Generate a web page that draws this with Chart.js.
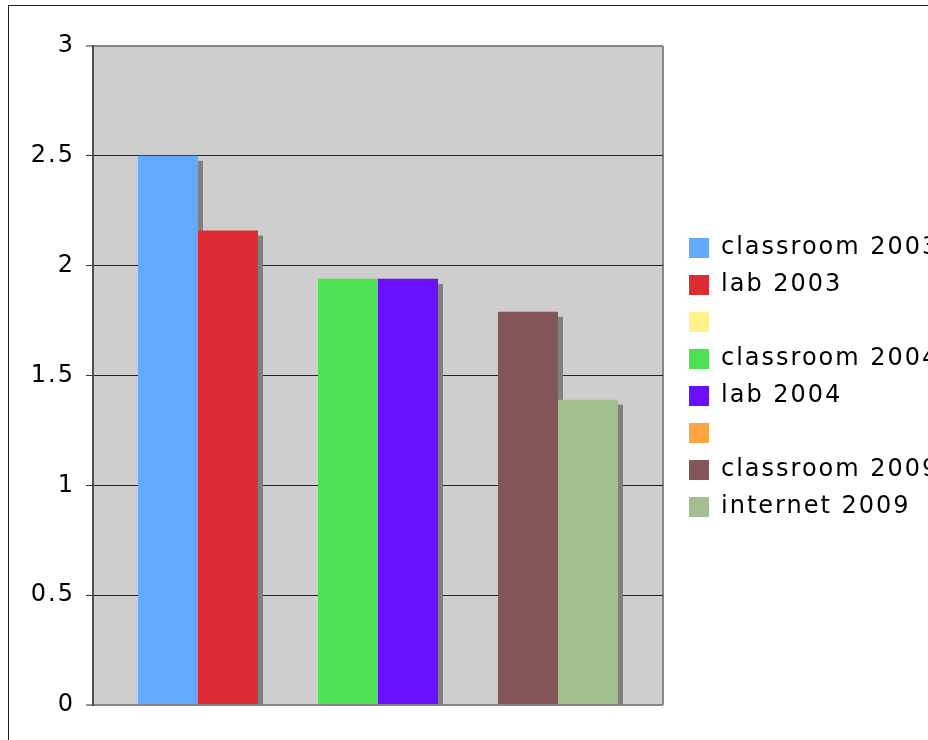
<!DOCTYPE html>
<html>
<head>
<meta charset="utf-8">
<script src="https://cdn.jsdelivr.net/npm/chart.js@4.4.0/dist/chart.umd.min.js"></script>
<style>
    html, body { margin: 0; padding: 0; background: #fff; overflow: hidden; }
    #wrap { position: absolute; left: 0; top: 0; width: 928px; height: 740px; }
    #frame { position: absolute; left: 8px; top: 5px; width: 1000px; height: 1000px; border: 1px solid #222; pointer-events: none; }
</style>
</head>
<body>
<div id="wrap"><canvas id="chart"></canvas></div>
<div id="frame"></div>
<script>
// Chart data
const categories = [''];
const seriesNames = ['classroom 2003', 'lab 2003', '', 'classroom 2004', 'lab 2004', '', 'classroom 2009', 'internet 2009'];
const seriesValues = [2.5, 2.16, null, 1.94, 1.94, null, 1.79, 1.39];
const seriesColors = ['#63a9ff', '#dd2c33', '#fff389', '#4de253', '#6a10ff', '#ffa644', '#855658', '#a3bf8f'];
const yTicks = [0, 0.5, 1, 1.5, 2, 2.5, 3];

Chart.defaults.font.family = "'DejaVu Sans', Verdana, sans-serif";
Chart.defaults.font.size = 24;
Chart.defaults.color = '#000';

// Grey plot wall + right border, also sets letter spacing for all text
const plotBackground = {
    id: 'plotBackground',
    beforeDraw(chart) {
        const ctx = chart.ctx;
        const a = chart.chartArea;
        ctx.save();
        ctx.fillStyle = '#cecece';
        ctx.fillRect(a.left, a.top, a.right - a.left, a.bottom - a.top);
        ctx.strokeStyle = '#888';
        ctx.lineWidth = 2;
        ctx.beginPath();
        ctx.moveTo(a.right, a.top);
        ctx.lineTo(a.right, a.bottom);
        ctx.stroke();
        ctx.restore();
        ctx.letterSpacing = '2px';
    }
};

// Solid offset shadows, all drawn before the bars so later bars cover them
const barShadow = {
    id: 'barShadow',
    beforeDatasetsDraw(chart) {
        const ctx = chart.ctx;
        const a = chart.chartArea;
        ctx.save();
        ctx.beginPath();
        ctx.rect(a.left, a.top, a.right - a.left, a.bottom - a.top);
        ctx.clip();
        ctx.fillStyle = '#808080';
        chart.data.datasets.forEach((ds, i) => {
            if (seriesValues[i] == null) return;
            chart.getDatasetMeta(i).data.forEach(bar => {
                const { x, y, base, width } = bar.getProps(['x', 'y', 'base', 'width'], true);
                ctx.fillRect(x - width / 2 + 5, Math.min(y, base) + 5, width, Math.abs(base - y));
            });
        });
        ctx.restore();
    }
};

// Push legend a bit away from the plot and let its text run off the page
const legendShift = {
    id: 'legendShift',
    afterLayout(chart) {
        chart.legend.left += 13;
        chart.legend.right += 200;
        chart.legend.top += 2;
        chart.legend.bottom += 2;
    }
};

const datasets = seriesNames.map((name, i) => ({
    label: name,
    data: [seriesValues[i]],
    backgroundColor: seriesColors[i],
    borderWidth: 0,
    categoryPercentage: 0.8421,
    barPercentage: 1
}));

const edgeValue = v => v === 0 || v === 3;

new Chart(document.getElementById('chart'), {
    type: 'bar',
    data: {
        labels: categories,
        datasets: datasets
    },
    options: {
        responsive: true,
        maintainAspectRatio: false,
        animation: false,
        layout: {
            padding: { top: 46, bottom: 35, left: 9, right: 65 }
        },
        plugins: {
            tooltip: { enabled: false },
            legend: {
                position: 'right',
                maxWidth: 200,
                labels: {
                    boxWidth: 20,
                    boxHeight: 20,
                    padding: 13,
                    color: '#000',
                    font: { size: 24 }
                }
            }
        },
        scales: {
            x: {
                display: false
            },
            y: {
                min: 0,
                max: 3,
                afterFit(scale) { scale.width = 84; },
                afterBuildTicks(scale) { scale.ticks = yTicks.map(v => ({ value: v })); },
                ticks: {
                    padding: 11,
                    color: '#000',
                    font: { size: 24 },
                    callback: v => String(v)
                },
                grid: {
                    color: ctx => (ctx.tick && edgeValue(ctx.tick.value)) ? '#888' : '#222',
                    lineWidth: ctx => (ctx.tick && edgeValue(ctx.tick.value)) ? 2 : 1,
                    tickLength: 7,
                    tickColor: '#333',
                    tickWidth: 1
                },
                border: { display: true, color: '#4d4d4d', width: 2 }
            }
        }
    },
    plugins: [plotBackground, barShadow, legendShift]
});
</script>
</body>
</html>
